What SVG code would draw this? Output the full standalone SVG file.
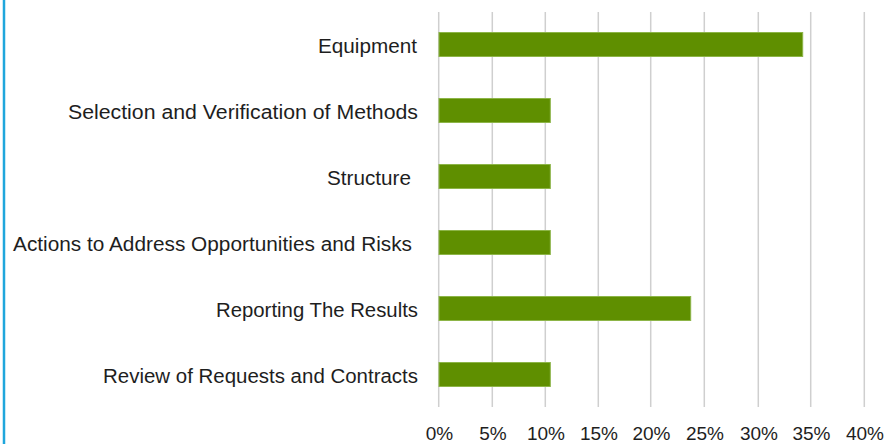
<svg xmlns="http://www.w3.org/2000/svg" width="893" height="444" viewBox="0 0 893 444">
<style>
.lbl{font-family:"Liberation Sans",Arial,sans-serif;font-size:20px;fill:#1e1e1e}
.ax{font-family:"Liberation Sans",Arial,sans-serif;font-size:19px;fill:#1e1e1e;text-anchor:middle}
.grid{stroke:#cfcfcf;stroke-width:1.5}
.bar{fill:#5f8f00;stroke:#8db548;stroke-width:1}
</style>
<rect x="0" y="0" width="893" height="444" fill="#ffffff"/>
<line x1="4" y1="0" x2="4" y2="444" stroke="#1fa6dc" stroke-width="2.5"/>
<g id="grid">
<line class="grid" x1="438.7" y1="12" x2="438.7" y2="407"/>
<line class="grid" x1="492.3" y1="12" x2="492.3" y2="407"/>
<line class="grid" x1="545.3" y1="12" x2="545.3" y2="407"/>
<line class="grid" x1="598.3" y1="12" x2="598.3" y2="407"/>
<line class="grid" x1="650.7" y1="12" x2="650.7" y2="407"/>
<line class="grid" x1="704.3" y1="12" x2="704.3" y2="407"/>
<line class="grid" x1="758.3" y1="12" x2="758.3" y2="407"/>
<line class="grid" x1="810.7" y1="12" x2="810.7" y2="407"/>
<line class="grid" x1="864.3" y1="12" x2="864.3" y2="407"/>
</g>
<g id="bar-equipment">
<rect class="bar" x="439" y="32.5" width="363.7" height="24"/>
<text class="lbl" x="318" y="53" textLength="99" lengthAdjust="spacingAndGlyphs">Equipment</text>
</g>
<g id="bar-selection">
<rect class="bar" x="439" y="98.5" width="111.3" height="24"/>
<text class="lbl" x="68" y="119" textLength="350" lengthAdjust="spacingAndGlyphs">Selection and Verification of Methods</text>
</g>
<g id="bar-structure">
<rect class="bar" x="439" y="164.5" width="111.3" height="24"/>
<text class="lbl" x="327" y="185" textLength="84" lengthAdjust="spacingAndGlyphs">Structure</text>
</g>
<g id="bar-actions">
<rect class="bar" x="439" y="230.5" width="111.3" height="24"/>
<text class="lbl" x="13" y="251" textLength="399" lengthAdjust="spacingAndGlyphs">Actions to Address Opportunities and Risks</text>
</g>
<g id="bar-reporting">
<rect class="bar" x="439" y="296.5" width="251.7" height="24"/>
<text class="lbl" x="216" y="317" textLength="202" lengthAdjust="spacingAndGlyphs">Reporting The Results</text>
</g>
<g id="bar-review">
<rect class="bar" x="439" y="362.5" width="111.3" height="24"/>
<text class="lbl" x="103" y="383" textLength="315" lengthAdjust="spacingAndGlyphs">Review of Requests and Contracts</text>
</g>
<g id="axis">
<text class="ax" x="439.5" y="440">0%</text>
<text class="ax" x="493" y="440">5%</text>
<text class="ax" x="546" y="440">10%</text>
<text class="ax" x="599" y="440">15%</text>
<text class="ax" x="651.5" y="440">20%</text>
<text class="ax" x="705" y="440">25%</text>
<text class="ax" x="759" y="440">30%</text>
<text class="ax" x="811.5" y="440">35%</text>
<text class="ax" x="865" y="440">40%</text>
</g>
</svg>
